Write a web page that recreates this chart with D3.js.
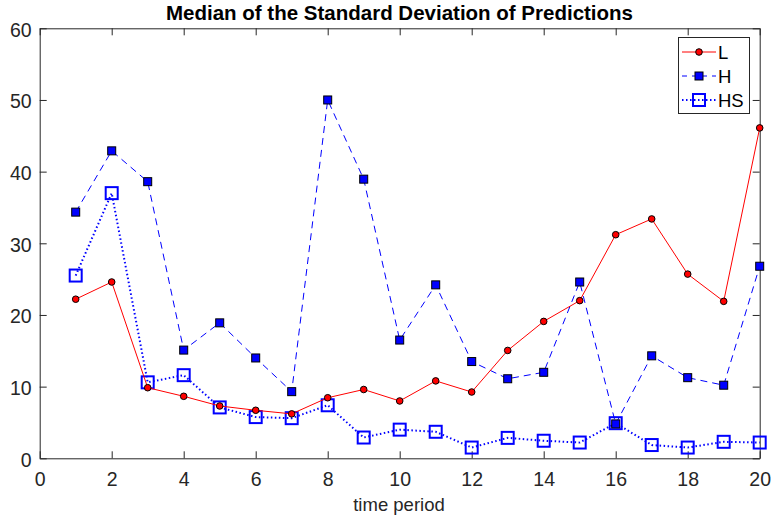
<!DOCTYPE html>
<html>
<head>
<meta charset="utf-8">
<script src="https://cdn.jsdelivr.net/npm/d3@7"></script>
<style>
  body { margin: 0; background: #fff; }
  svg { display: block; font-family: "Liberation Sans", Arial, Helvetica, sans-serif; }
</style>
</head>
<body>
<svg id="chart" width="774" height="519"></svg>
<script>
// time periods
var periods = [1, 2, 3, 4, 5, 6, 7, 8, 9, 10, 11, 12, 13, 14, 15, 16, 17, 18, 19, 20];

// series values
var valuesL  = [22.2, 24.6, 9.85, 8.65, 7.3, 6.7, 6.2, 8.45, 9.6, 8.0, 10.8, 9.25, 15.05, 19.1, 22.0, 31.2, 33.4, 25.7, 21.9, 46.1];
var valuesH  = [34.35, 42.9, 38.6, 15.1, 18.9, 14.0, 9.3, 50.0, 38.95, 16.5, 24.2, 13.5, 11.1, 12.0, 24.6, 4.8, 14.3, 11.25, 10.2, 26.8];
var valuesHS = [25.5, 37.0, 10.6, 11.6, 7.1, 5.75, 5.6, 7.4, 2.9, 4.0, 3.7, 1.5, 2.85, 2.45, 2.2, 4.9, 1.85, 1.5, 2.3, 2.2];

var xTicks = [0, 2, 4, 6, 8, 10, 12, 14, 16, 18, 20];
var yTicks = [0, 10, 20, 30, 40, 50, 60];
var seriesNames = ["L", "H", "HS"];

var svg = d3.select("#chart");
var axisColor = "#262626";

// plot box (window.top is reserved, so use own names)
var plotL = 39.7, plotR = 759.7, plotT = 28.3, plotB = 458.3;

var x = d3.scaleLinear().domain([0, 20]).range([plotL, plotR]);
var y = d3.scaleLinear().domain([0, 60]).range([plotB, plotT]);

// axes, ticks inward on all four sides
var gx = svg.append("g").attr("transform", "translate(0," + plotB + ")")
    .call(d3.axisBottom(x).tickValues(xTicks).tickSizeInner(-7).tickSizeOuter(0).tickPadding(13.5));
var gxTop = svg.append("g").attr("transform", "translate(0," + plotT + ")")
    .call(d3.axisTop(x).tickValues(xTicks).tickSizeInner(-7).tickSizeOuter(0).tickFormat(""));
var gy = svg.append("g").attr("transform", "translate(" + plotL + ",0)")
    .call(d3.axisLeft(y).tickValues(yTicks).tickSizeInner(-7).tickSizeOuter(0).tickPadding(8));
var gyRight = svg.append("g").attr("transform", "translate(" + plotR + ",0)")
    .call(d3.axisRight(y).tickValues(yTicks).tickSizeInner(-7).tickSizeOuter(0).tickFormat(""));

[gx, gxTop, gy, gyRight].forEach(function(g) {
    g.selectAll("path.domain").attr("stroke", axisColor);
    g.selectAll(".tick line").attr("stroke", axisColor);
    g.selectAll(".tick text").attr("fill", axisColor).style("font-size", "19.5px");
});
gx.selectAll(".tick text").attr("dy", "0.71em");
gy.selectAll(".tick text").attr("dy", "0.4em");

// title and label
svg.append("text")
    .attr("x", 399.5)
    .attr("y", 19.5)
    .attr("text-anchor", "middle")
    .style("font-size", "20.5px")
    .style("font-weight", "bold")
    .attr("fill", "#000")
    .text("Median of the Standard Deviation of Predictions");

svg.append("text")
    .attr("x", 399)
    .attr("y", 510.5)
    .attr("text-anchor", "middle")
    .style("font-size", "18.5px")
    .attr("fill", axisColor)
    .text("time period");

var line = d3.line()
    .x(function(d) { return x(d[0]); })
    .y(function(d) { return y(d[1]); });

function pairs(vals) {
    return periods.map(function(p, i) { return [p, vals[i]]; });
}

var series = [
    { name: "L", data: pairs(valuesL), color: "#ff0000", dash: null, width: 1 },
    { name: "H", data: pairs(valuesH), color: "#0000ff", dash: "7,5", width: 1 },
    { name: "HS", data: pairs(valuesHS), color: "#0000ff", dash: "1.5,2.5", width: 2 }
];

function drawMarker(g, name, cx, cy) {
    if (name === "L") {
        g.append("circle").attr("cx", cx).attr("cy", cy).attr("r", 3.3)
            .attr("fill", "#ff0000").attr("stroke", "#000").attr("stroke-width", 1);
    } else if (name === "H") {
        g.append("rect").attr("x", cx - 4).attr("y", cy - 4).attr("width", 8).attr("height", 8)
            .attr("fill", "#0000ff").attr("stroke", "#000").attr("stroke-width", 1);
    } else {
        g.append("rect").attr("x", cx - 6).attr("y", cy - 6).attr("width", 12).attr("height", 12)
            .attr("fill", "none").attr("stroke", "#0000ff").attr("stroke-width", 2);
    }
}

// draw HS first, then H, then L on top
[series[2], series[1], series[0]].forEach(function(s) {
    var g = svg.append("g");
    g.append("path")
        .datum(s.data)
        .attr("d", line)
        .attr("fill", "none")
        .attr("stroke", s.color)
        .attr("stroke-width", s.width)
        .attr("stroke-dasharray", s.dash);
    s.data.forEach(function(d) {
        drawMarker(g, s.name, x(d[0]), y(d[1]));
    });
});

// legend
var lg = svg.append("g");
lg.append("rect")
    .attr("x", 678.5).attr("y", 37.5).attr("width", 71).attr("height", 76)
    .attr("fill", "#fff").attr("stroke", axisColor).attr("stroke-width", 1);
var rowY = [52, 76, 100];
series.forEach(function(s, i) {
    lg.append("line")
        .attr("x1", 682).attr("x2", 716)
        .attr("y1", rowY[i]).attr("y2", rowY[i])
        .attr("stroke", s.color)
        .attr("stroke-width", s.width)
        .attr("stroke-dasharray", s.name === "H" ? "5,5" : s.dash);
    drawMarker(lg, s.name, 699, rowY[i]);
    lg.append("text")
        .attr("x", 718).attr("y", rowY[i])
        .attr("dy", "0.36em")
        .style("font-size", "18.5px")
        .attr("fill", "#000")
        .text(seriesNames[i]);
});
</script>
</body>
</html>
